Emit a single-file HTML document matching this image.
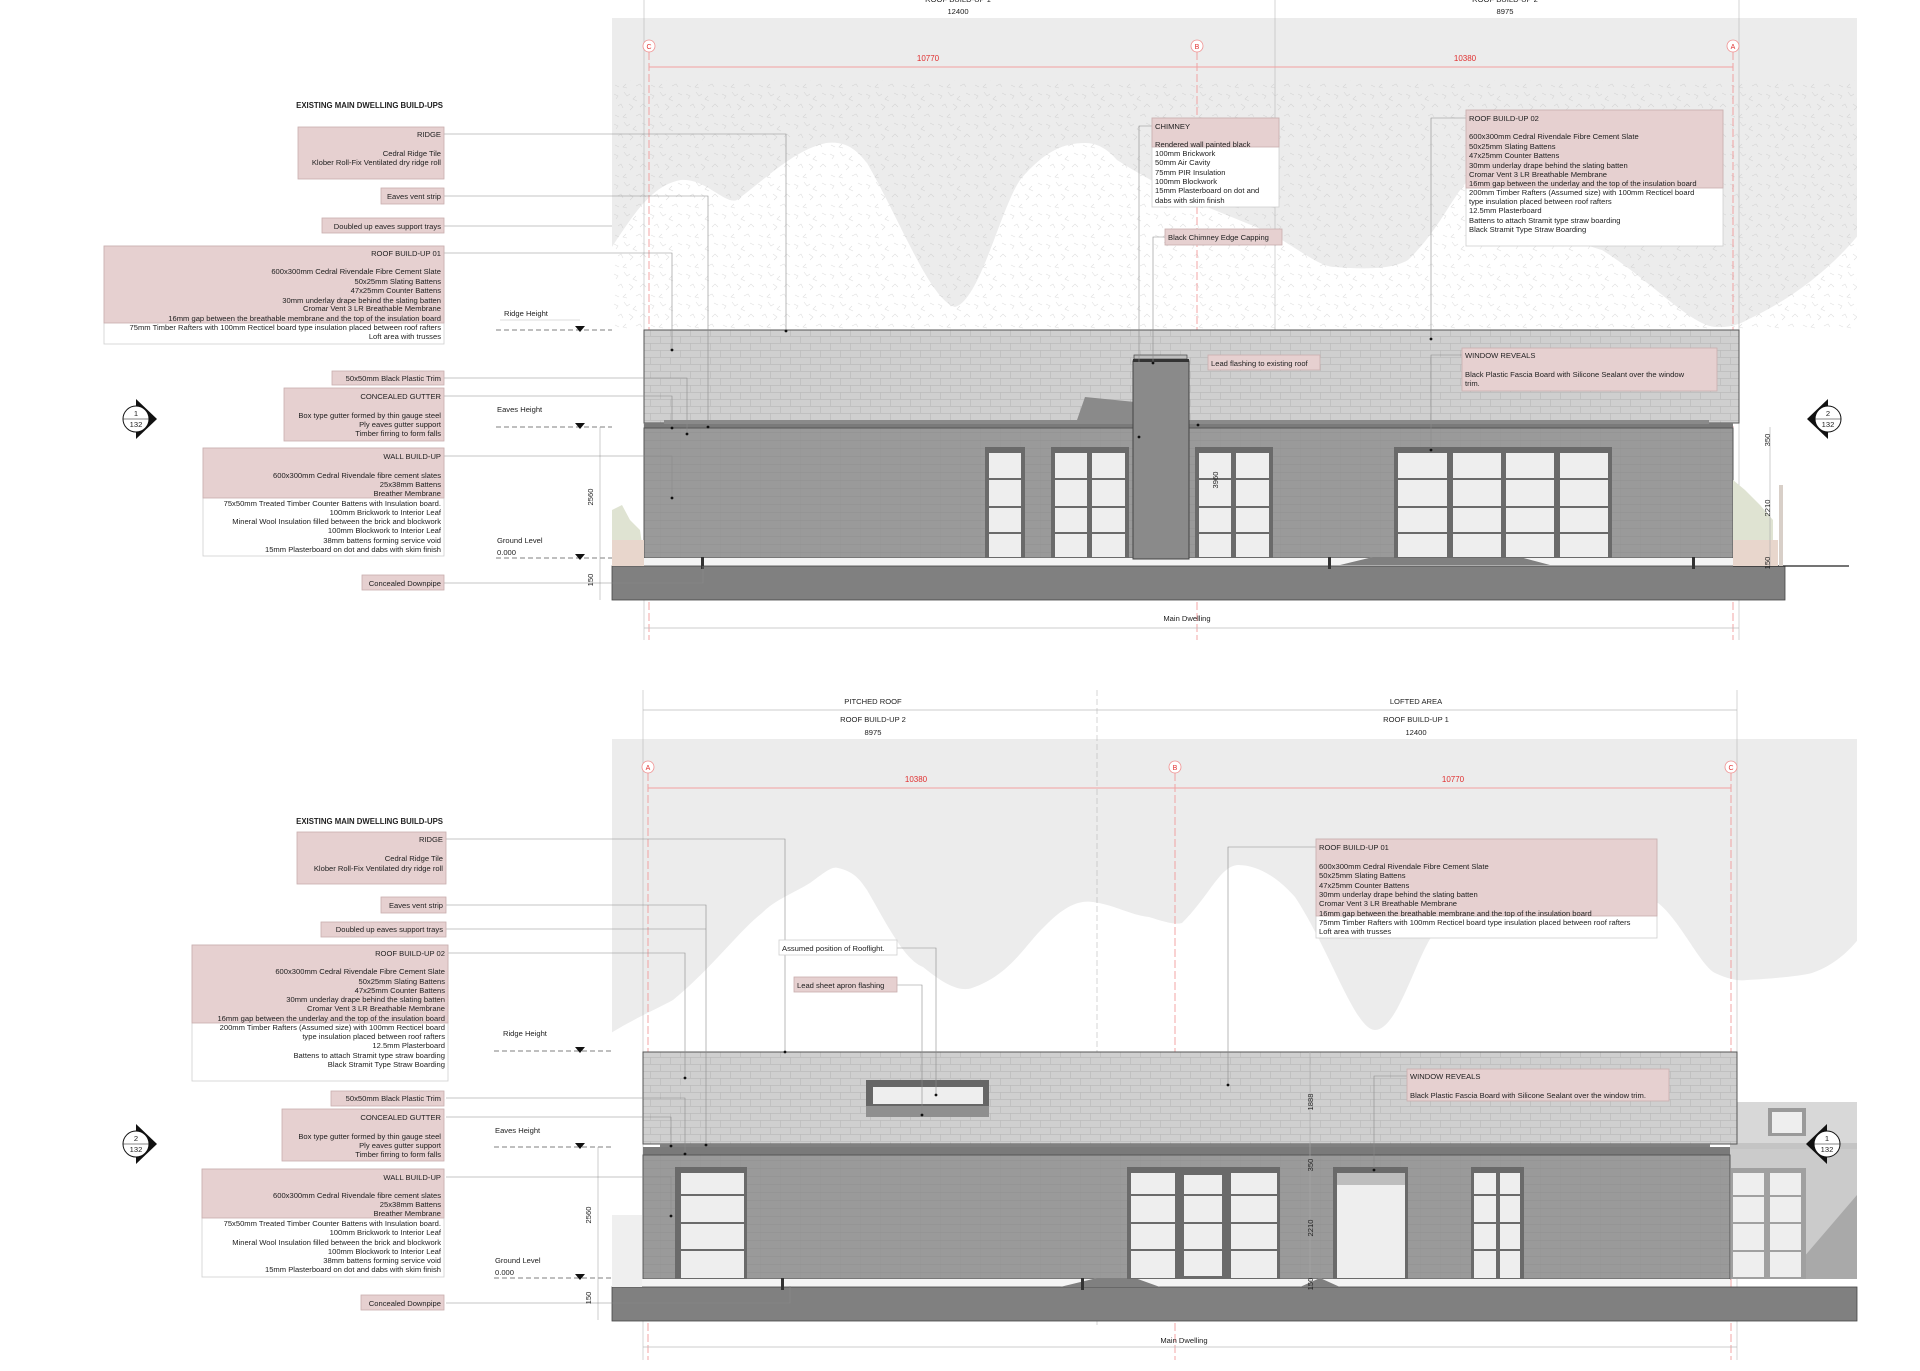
<!DOCTYPE html>
<html><head><meta charset="utf-8"><style>
html,body{margin:0;padding:0;background:#fff;}
svg{display:block;}
text{font-family:"Liberation Sans",Arial,sans-serif;font-size:7.6px;fill:#222;}
.r{text-anchor:end;}
.m{text-anchor:middle;}
.red{fill:#e03030;font-size:8px;}
.ll{stroke:#8a8a8a;stroke-width:0.6;fill:none;}
.pk{fill:#e6d0d0;stroke:#c9aeae;stroke-width:0.8;}
.wb{fill:#fff;stroke:#cfcfcf;stroke-width:0.8;}
.gl{stroke:#b8b8b8;stroke-width:0.6;fill:none;}
.rd{stroke:#f09090;stroke-width:0.8;stroke-dasharray:8 3;fill:none;}
.dot{fill:#111;}
.fr{fill:#6a6a6a;}
.gs{fill:#eeeeee;}
.bar{stroke:#6a6a6a;stroke-width:2;}
.dash{stroke:#555;stroke-width:0.8;stroke-dasharray:5 3;fill:none;}
</style></head><body>
<svg width="1920" height="1371" viewBox="0 0 1920 1371" xmlns="http://www.w3.org/2000/svg">
<defs>
<pattern id="roof" width="20" height="14" patternUnits="userSpaceOnUse">
<rect width="20" height="14" fill="#cfcfcf"/>
<path d="M0 0.5H20M0 7.5H20M0.5 0V7M10.5 7V14" stroke="#bcbcbc" stroke-width="0.7"/>
</pattern>
<pattern id="wall" width="20" height="8" patternUnits="userSpaceOnUse">
<rect width="20" height="8" fill="#9a9a9a"/>
<path d="M0 0.5H20" stroke="#909090" stroke-width="0.6"/>
<path d="M0.5 0V8" stroke="#949494" stroke-width="0.4"/>
</pattern>
<pattern id="hatch" width="36" height="30" patternUnits="userSpaceOnUse">
<path d="M2 4l4 2l-2 3M12 2l3 4l3-2M24 6l-3 3l4 2M30 3l4 2M6 16l3-2l2 4M17 14l4 3l-3 3M28 17l3-3l3 3M3 25l4 2M14 24l-3 3l4 1M24 26l4-2l2 3" stroke="#b5b5b5" stroke-width="0.55" fill="none"/>
</pattern>
</defs>

<!-- ============ TOP ELEVATION ============ -->
<rect x="612" y="18" width="1245" height="312" fill="#ececec"/>
<path d="M608 330 L608 253 C630 220 650 185 681 180 C705 178 725 205 737 200 C770 175 795 150 826 143 C850 140 860 155 867 163 C900 220 930 300 955 307 C980 300 1000 210 1020 180 C1045 150 1065 143 1085 143 C1100 143 1110 152 1117 160 C1180 200 1230 215 1270 233 C1300 250 1320 267 1335 267 C1370 270 1395 268 1408 260 C1440 230 1455 190 1472 177 C1510 180 1540 220 1569 237 C1585 245 1595 248 1602 250 C1650 280 1690 325 1715 327 C1730 328 1740 324 1747 320 C1790 300 1830 270 1860 233 L1860 330 Z" fill="#fff"/>
<rect x="612" y="80" width="1245" height="250" fill="url(#hatch)" opacity="0.45"/>

<!-- top dims -->
<line x1="644" y1="0" x2="644" y2="640" class="gl"/>
<line x1="1275" y1="0" x2="1275" y2="330" class="gl"/>
<line x1="1739" y1="0" x2="1739" y2="640" class="gl"/>
<text x="958" y="2" class="m">ROOF BUILD-UP 1</text>
<text x="1505" y="2" class="m">ROOF BUILD-UP 2</text>
<text x="958" y="14" class="m">12400</text>
<text x="1505" y="14" class="m">8975</text>

<line x1="649" y1="52" x2="649" y2="640" class="rd"/>
<line x1="1197" y1="52" x2="1197" y2="640" class="rd"/>
<line x1="1733" y1="52" x2="1733" y2="640" class="rd"/>
<line x1="649" y1="67" x2="1733" y2="67" stroke="#f2a0a0" stroke-width="1"/>
<circle cx="649" cy="46" r="6" fill="#fff" stroke="#f09090" stroke-width="0.8"/><text x="649" y="49" class="m red" style="font-size:7px">C</text>
<circle cx="1197" cy="46" r="6" fill="#fff" stroke="#f09090" stroke-width="0.8"/><text x="1197" y="49" class="m red" style="font-size:7px">B</text>
<circle cx="1733" cy="46" r="6" fill="#fff" stroke="#f09090" stroke-width="0.8"/><text x="1733" y="49" class="m red" style="font-size:7px">A</text>
<text x="928" y="61" class="m red">10770</text>
<text x="1465" y="61" class="m red">10380</text>

<!-- building top -->
<rect x="644" y="330" width="1095" height="93" fill="url(#roof)" stroke="#555" stroke-width="1"/>
<polygon points="1085,397 1135,402 1135,430 1077,420" fill="#8a8a8a"/>
<rect x="644" y="423" width="1089" height="5" fill="#7a7a7a"/>
<rect x="664" y="420" width="1045" height="4" fill="#8a8a8a"/>
<rect x="644" y="428" width="1089" height="130" fill="url(#wall)" stroke="#555" stroke-width="1"/>
<rect x="612" y="558" width="1121" height="8" fill="#f4f4f4"/>
<rect x="612" y="566" width="1173" height="34" fill="#808080" stroke="#444" stroke-width="0.8"/>
<line x1="1733" y1="566" x2="1849" y2="566" stroke="#222" stroke-width="1.2"/>
<polygon points="1340,565 1373,557 1520,557 1550,565" fill="#808080"/>
<path d="M1733 558 L1773 558 L1773 520 L1760 505 L1745 490 L1733 480 Z" fill="#dfe3d2"/>
<rect x="1733" y="540" width="45" height="26" fill="#e8d6cc"/>
<rect x="1779" y="485" width="4" height="81" fill="#d8cfc8"/>
<path d="M612 558 L612 510 L622 505 L630 520 L640 530 L644 558 Z" fill="#dfe3d2"/>
<rect x="612" y="540" width="32" height="26" fill="#e8d6cc"/>
<rect x="701" y="557" width="3" height="12" fill="#333"/>
<rect x="1328" y="557" width="3" height="12" fill="#333"/>
<rect x="1692" y="557" width="3" height="12" fill="#333"/>
<rect x="1133" y="361" width="56" height="198" fill="#8a8a8a" stroke="#444" stroke-width="1"/>
<rect x="1134" y="355" width="53" height="4" fill="#bdbdbd" stroke="#444" stroke-width="0.7"/>
<rect x="1133" y="359" width="56" height="3" fill="#333"/>
<g>
<rect x="985" y="447" width="40" height="111" class="fr"/><rect x="989" y="453" width="32" height="104" class="gs"/>
<rect x="1051" y="447" width="78" height="111" class="fr"/><rect x="1055" y="453" width="32" height="104" class="gs"/><rect x="1092" y="453" width="33" height="104" class="gs"/>
<rect x="1195" y="447" width="78" height="111" class="fr"/><rect x="1199" y="453" width="32" height="104" class="gs"/><rect x="1236" y="453" width="33" height="104" class="gs"/>
<rect x="1394" y="447" width="218" height="111" class="fr"/>
<rect x="1398" y="453" width="49" height="104" class="gs"/><rect x="1453" y="453" width="48" height="104" class="gs"/><rect x="1506" y="453" width="48" height="104" class="gs"/><rect x="1560" y="453" width="48" height="104" class="gs"/>
<path d="M985 479H1025M985 507H1025M985 533H1025M1051 479H1129M1051 507H1129M1051 533H1129M1195 479H1273M1195 507H1273M1195 533H1273M1394 479H1612M1394 507H1612M1394 533H1612" class="bar"/>
</g>
<text transform="translate(1218,480) rotate(-90)" class="m">3960</text>

<text x="504" y="316">Ridge Height</text>
<line x1="496" y1="330" x2="612" y2="330" class="dash"/>
<line x1="500" y1="320" x2="580" y2="320" stroke="#bbb" stroke-width="0.5"/>
<polygon points="575,326 585,326 580,332" fill="#111"/>
<text x="497" y="412">Eaves Height</text>
<line x1="496" y1="427" x2="612" y2="427" class="dash"/>
<polygon points="575,423 585,423 580,429" fill="#111"/>
<text x="497" y="543">Ground Level</text>
<text x="497" y="555">0.000</text>
<line x1="496" y1="558" x2="612" y2="558" class="dash"/>
<polygon points="575,554 585,554 580,560" fill="#111"/>
<line x1="600" y1="427" x2="600" y2="600" stroke="#aaa" stroke-width="0.6"/>
<text transform="translate(593,497) rotate(-90)" class="m">2560</text>
<text transform="translate(593,580) rotate(-90)" class="m">150</text>
<line x1="1770" y1="427" x2="1770" y2="566" stroke="#aaa" stroke-width="0.6"/>
<text transform="translate(1770,440) rotate(-90)" class="m">350</text>
<text transform="translate(1770,508) rotate(-90)" class="m">2210</text>
<text transform="translate(1770,563) rotate(-90)" class="m">150</text>
<line x1="644" y1="628" x2="1739" y2="628" stroke="#bbb" stroke-width="0.7"/>
<text x="1187" y="621" class="m">Main Dwelling</text>

<polygon points="136,399 157,419 136,439" fill="#111"/><circle cx="136" cy="419" r="13" fill="#fff" stroke="#111" stroke-width="1"/><line x1="123" y1="419" x2="149" y2="419" stroke="#111" stroke-width="0.6"/><text x="136" y="416" class="m">1</text><text x="136" y="427" class="m">132</text>
<polygon points="1828,399 1807,419 1828,439" fill="#111"/><circle cx="1828" cy="419" r="13" fill="#fff" stroke="#111" stroke-width="1"/><line x1="1815" y1="419" x2="1841" y2="419" stroke="#111" stroke-width="0.6"/><text x="1828" y="416" class="m">2</text><text x="1828" y="427" class="m">132</text>

<path d="M444 134H786V330 M444 196H708V427 M444 226H612 M444 253H672V350 M444 378H687V434 M444 396H672V428 M444 456H672V498 M444 583H703V566" class="ll"/>
<g class="dot"><circle cx="786" cy="331" r="1.4"/><circle cx="708" cy="427" r="1.4"/><circle cx="672" cy="350" r="1.4"/><circle cx="687" cy="434" r="1.4"/><circle cx="672" cy="428" r="1.4"/><circle cx="672" cy="498" r="1.4"/></g>
<path d="M1152 126H1139V437 M1165 237H1153V363 M1466 118H1431V339 M1462 355H1431V450" class="ll"/>
<g class="dot"><circle cx="1139" cy="437" r="1.4"/><circle cx="1153" cy="363" r="1.4"/><circle cx="1431" cy="339" r="1.4"/><circle cx="1431" cy="450" r="1.4"/><circle cx="1198" cy="425" r="1.4"/></g>

<text x="443" y="108" class="r" style="font-weight:bold;font-size:7.8px">EXISTING MAIN DWELLING BUILD-UPS</text>
<rect x="298" y="127" width="146" height="52" class="pk"/>
<text x="441" y="137" class="r">RIDGE</text><text x="441" y="156" class="r">Cedral Ridge Tile</text><text x="441" y="165" class="r">Klober Roll-Fix Ventilated dry ridge roll</text>
<rect x="381" y="188" width="63" height="16" class="pk"/><text x="441" y="199" class="r">Eaves vent strip</text>
<rect x="322" y="218" width="122" height="15" class="pk"/><text x="441" y="229" class="r">Doubled up eaves support trays</text>
<rect x="104" y="246" width="340" height="98" class="wb"/><rect x="104" y="246" width="340" height="77" class="pk"/>
<text x="441" y="256" class="r">ROOF BUILD-UP 01</text>
<text x="441" y="274" class="r">600x300mm Cedral Rivendale Fibre Cement Slate</text>
<text x="441" y="284" class="r">50x25mm Slating Battens</text>
<text x="441" y="293" class="r">47x25mm Counter Battens</text>
<text x="441" y="303" class="r">30mm underlay drape behind the slating batten</text>
<text x="441" y="311" class="r">Cromar Vent 3 LR Breathable Membrane</text>
<text x="441" y="321" class="r">16mm gap between the breathable membrane and the top of the insulation board</text>
<text x="441" y="330" class="r">75mm Timber Rafters with 100mm Recticel board type insulation placed between roof rafters</text>
<text x="441" y="339" class="r">Loft area with trusses</text>
<rect x="332" y="371" width="112" height="14" class="pk"/><text x="441" y="381" class="r">50x50mm Black Plastic Trim</text>
<rect x="284" y="388" width="160" height="53" class="pk"/>
<text x="441" y="399" class="r">CONCEALED GUTTER</text><text x="441" y="418" class="r">Box type gutter formed by thin gauge steel</text><text x="441" y="427" class="r">Ply eaves gutter support</text><text x="441" y="436" class="r">Timber firring to form falls</text>
<rect x="203" y="448" width="241" height="108" class="wb"/><rect x="203" y="448" width="241" height="50" class="pk"/>
<text x="441" y="459" class="r">WALL BUILD-UP</text>
<text x="441" y="478" class="r">600x300mm Cedral Rivendale fibre cement slates</text>
<text x="441" y="487" class="r">25x38mm Battens</text>
<text x="441" y="496" class="r">Breather Membrane</text>
<text x="441" y="506" class="r">75x50mm Treated Timber Counter Battens with Insulation board.</text>
<text x="441" y="515" class="r">100mm Brickwork to Interior Leaf</text>
<text x="441" y="524" class="r">Mineral Wool Insulation filled between the brick and blockwork</text>
<text x="441" y="533" class="r">100mm Blockwork to Interior Leaf</text>
<text x="441" y="543" class="r">38mm battens forming service void</text>
<text x="441" y="552" class="r">15mm Plasterboard on dot and dabs with skim finish</text>
<rect x="362" y="575" width="82" height="15" class="pk"/><text x="441" y="586" class="r">Concealed Downpipe</text>

<rect x="1152" y="118" width="127" height="89" class="wb"/><rect x="1152" y="118" width="127" height="29" class="pk"/>
<text x="1155" y="129">CHIMNEY</text><text x="1155" y="147">Rendered wall painted black</text><text x="1155" y="156">100mm Brickwork</text><text x="1155" y="165">50mm Air Cavity</text><text x="1155" y="175">75mm PIR Insulation</text><text x="1155" y="184">100mm Blockwork</text><text x="1155" y="193">15mm Plasterboard on dot and</text><text x="1155" y="203">dabs with skim finish</text>
<rect x="1165" y="229" width="117" height="16" class="pk"/><text x="1168" y="240">Black Chimney Edge Capping</text>
<rect x="1466" y="110" width="257" height="136" class="wb"/><rect x="1466" y="110" width="257" height="78" class="pk"/>
<text x="1469" y="121">ROOF BUILD-UP 02</text>
<text x="1469" y="139">600x300mm Cedral Rivendale Fibre Cement Slate</text>
<text x="1469" y="149">50x25mm Slating Battens</text>
<text x="1469" y="158">47x25mm Counter Battens</text>
<text x="1469" y="168">30mm underlay drape behind the slating batten</text>
<text x="1469" y="177">Cromar Vent 3 LR Breathable Membrane</text>
<text x="1469" y="186">16mm gap between the underlay and the top of the insulation board</text>
<text x="1469" y="195">200mm Timber Rafters (Assumed size) with 100mm Recticel board</text>
<text x="1469" y="204">type insulation placed between roof rafters</text>
<text x="1469" y="213">12.5mm Plasterboard</text>
<text x="1469" y="223">Battens to attach Stramit type straw boarding</text>
<text x="1469" y="232">Black Stramit Type Straw Boarding</text>
<rect x="1208" y="355" width="112" height="15" class="pk"/><text x="1211" y="366">Lead flashing to existing roof</text>
<rect x="1462" y="348" width="255" height="43" class="pk"/>
<text x="1465" y="358">WINDOW REVEALS</text><text x="1465" y="377">Black Plastic Fascia Board with Silicone Sealant over the window</text><text x="1465" y="386">trim.</text>

<!-- ============ BOTTOM ELEVATION ============ -->
<rect x="612" y="739" width="1245" height="313" fill="#ececec"/>
<path d="M600 1052 L600 1040 C630 1020 655 1010 673 1000 C710 970 740 930 762 913 C775 900 790 895 810 883 C825 872 832 866 838 868 C855 872 860 880 867 890 C890 930 905 960 923 967 C945 985 960 992 972 988 C1010 975 1025 945 1044 927 C1065 905 1080 900 1093 902 C1115 905 1130 915 1149 917 C1165 922 1175 925 1182 923 C1210 895 1220 866 1238 865 C1260 865 1280 880 1295 897 C1330 950 1355 1030 1375 1030 C1400 1030 1420 940 1440 927 C1500 900 1600 895 1658 903 C1680 920 1700 965 1715 973 C1730 980 1740 981 1747 980 C1780 978 1800 976 1812 973 C1835 965 1850 950 1860 937 L1860 1052 Z" fill="#fff"/>

<line x1="643" y1="690" x2="643" y2="1360" class="gl"/>
<line x1="1097" y1="690" x2="1097" y2="1325" class="gl" stroke-dasharray="6 3"/>
<line x1="1737" y1="690" x2="1737" y2="1360" class="gl"/>
<line x1="643" y1="710" x2="1737" y2="710" stroke="#bbb" stroke-width="0.7"/>
<text x="873" y="704" class="m">PITCHED ROOF</text>
<text x="873" y="722" class="m">ROOF BUILD-UP 2</text>
<text x="873" y="735" class="m">8975</text>
<text x="1416" y="704" class="m">LOFTED AREA</text>
<text x="1416" y="722" class="m">ROOF BUILD-UP 1</text>
<text x="1416" y="735" class="m">12400</text>

<line x1="648" y1="773" x2="648" y2="1360" class="rd"/>
<line x1="1175" y1="773" x2="1175" y2="1360" class="rd"/>
<line x1="1731" y1="773" x2="1731" y2="1360" class="rd"/>
<line x1="648" y1="788" x2="1731" y2="788" stroke="#f2a0a0" stroke-width="1"/>
<circle cx="648" cy="767" r="6" fill="#fff" stroke="#f09090" stroke-width="0.8"/><text x="648" y="770" class="m red" style="font-size:7px">A</text>
<circle cx="1175" cy="767" r="6" fill="#fff" stroke="#f09090" stroke-width="0.8"/><text x="1175" y="770" class="m red" style="font-size:7px">B</text>
<circle cx="1731" cy="767" r="6" fill="#fff" stroke="#f09090" stroke-width="0.8"/><text x="1731" y="770" class="m red" style="font-size:7px">C</text>
<text x="916" y="782" class="m red">10380</text>
<text x="1453" y="782" class="m red">10770</text>

<rect x="1730" y="1102" width="127" height="41" fill="#d8d8d8"/>
<rect x="1730" y="1143" width="127" height="6" fill="#c4c4c4"/>
<rect x="1730" y="1149" width="127" height="130" fill="#cbcbcb"/>
<polygon points="1857,1195 1857,1279 1785,1279" fill="#a9a9a9"/>
<rect x="1768" y="1108" width="38" height="28" fill="#9a9a9a"/><rect x="1772" y="1112" width="30" height="21" class="gs"/>
<rect x="1731" y="1168" width="75" height="111" fill="#a0a0a0"/>
<rect x="1733" y="1173" width="31" height="104" class="gs"/><rect x="1770" y="1173" width="31" height="104" class="gs"/>
<path d="M1731 1196H1806M1731 1223H1806M1731 1251H1806" stroke="#a0a0a0" stroke-width="2"/>

<rect x="643" y="1052" width="1094" height="92" fill="url(#roof)" stroke="#555" stroke-width="1"/>
<rect x="866" y="1080" width="123" height="37" fill="#8f8f8f"/>
<rect x="866" y="1080" width="123" height="26" fill="#666"/>
<rect x="873" y="1087" width="110" height="17" class="gs"/>
<rect x="660" y="1144" width="1050" height="4" fill="#808080"/>
<rect x="643" y="1147" width="1087" height="8" fill="#7a7a7a"/>
<rect x="643" y="1155" width="1087" height="124" fill="url(#wall)" stroke="#555" stroke-width="1"/>
<rect x="612" y="1279" width="1118" height="8" fill="#f4f4f4"/>
<rect x="612" y="1287" width="1245" height="34" fill="#808080" stroke="#444" stroke-width="0.8"/>
<polygon points="1060,1287 1097,1278 1135,1278 1160,1287" fill="#808080"/>
<polygon points="1300,1287 1320,1278 1340,1287" fill="#808080"/>
<rect x="612" y="1215" width="30" height="72" fill="#efefef"/>
<rect x="781" y="1278" width="3" height="12" fill="#333"/>
<rect x="1081" y="1278" width="3" height="12" fill="#333"/>
<rect x="675" y="1167" width="72" height="112" class="fr"/><rect x="681" y="1173" width="63" height="105" class="gs"/>
<rect x="1127" y="1167" width="153" height="112" class="fr"/>
<rect x="1131" y="1173" width="44" height="105" class="gs"/><rect x="1184" y="1175" width="38" height="101" class="gs"/><rect x="1231" y="1173" width="46" height="105" class="gs"/>
<rect x="1333" y="1167" width="75" height="112" class="fr"/><rect x="1337" y="1173" width="68" height="105" class="gs"/><rect x="1337" y="1173" width="68" height="12" fill="#bdbdbd"/>
<rect x="1471" y="1167" width="53" height="112" class="fr"/><rect x="1474" y="1173" width="22" height="105" class="gs"/><rect x="1500" y="1173" width="20" height="105" class="gs"/>
<path d="M675 1195H747M675 1223H747M675 1250H747M1127 1195H1280M1127 1223H1280M1127 1250H1280M1471 1195H1524M1471 1223H1524M1471 1250H1524" class="bar"/>

<text x="503" y="1036">Ridge Height</text>
<line x1="494" y1="1051" x2="612" y2="1051" class="dash"/>
<polygon points="575,1047 585,1047 580,1053" fill="#111"/>
<text x="495" y="1133">Eaves Height</text>
<line x1="494" y1="1147" x2="612" y2="1147" class="dash"/>
<polygon points="575,1143 585,1143 580,1149" fill="#111"/>
<text x="495" y="1263">Ground Level</text>
<text x="495" y="1275">0.000</text>
<line x1="494" y1="1278" x2="612" y2="1278" class="dash"/>
<polygon points="575,1274 585,1274 580,1280" fill="#111"/>
<line x1="598" y1="1147" x2="598" y2="1320" stroke="#aaa" stroke-width="0.6"/>
<text transform="translate(591,1215) rotate(-90)" class="m">2560</text>
<text transform="translate(591,1298) rotate(-90)" class="m">150</text>
<line x1="1310" y1="1052" x2="1310" y2="1287" stroke="#aaa" stroke-width="0.6"/>
<text transform="translate(1313,1102) rotate(-90)" class="m">1888</text>
<text transform="translate(1313,1165) rotate(-90)" class="m">350</text>
<text transform="translate(1313,1228) rotate(-90)" class="m">2210</text>
<text transform="translate(1313,1284) rotate(-90)" class="m">150</text>
<line x1="643" y1="1347" x2="1737" y2="1347" stroke="#bbb" stroke-width="0.7"/>
<text x="1184" y="1343" class="m">Main Dwelling</text>

<polygon points="136,1124 157,1144 136,1164" fill="#111"/><circle cx="136" cy="1144" r="13" fill="#fff" stroke="#111" stroke-width="1"/><line x1="123" y1="1144" x2="149" y2="1144" stroke="#111" stroke-width="0.6"/><text x="136" y="1141" class="m">2</text><text x="136" y="1152" class="m">132</text>
<polygon points="1827,1124 1806,1144 1827,1164" fill="#111"/><circle cx="1827" cy="1144" r="13" fill="#fff" stroke="#111" stroke-width="1"/><line x1="1814" y1="1144" x2="1840" y2="1144" stroke="#111" stroke-width="0.6"/><text x="1827" y="1141" class="m">1</text><text x="1827" y="1152" class="m">132</text>

<path d="M446 839H785V1052 M446 905H706V1145 M446 929H706 M446 953H685V1078 M446 1098H685V1154 M446 1117H671V1146 M446 1177H671V1216 M446 1303H790V1286" class="ll"/>
<path d="M897 948H936V1095 M897 985H922V1115 M1316 847H1228V1085 M1407 1076H1374V1170" class="ll"/>
<g class="dot"><circle cx="785" cy="1052" r="1.4"/><circle cx="706" cy="1145" r="1.4"/><circle cx="685" cy="1078" r="1.4"/><circle cx="685" cy="1154" r="1.4"/><circle cx="671" cy="1146" r="1.4"/><circle cx="671" cy="1216" r="1.4"/><circle cx="936" cy="1095" r="1.4"/><circle cx="922" cy="1115" r="1.4"/><circle cx="1228" cy="1085" r="1.4"/><circle cx="1374" cy="1170" r="1.4"/></g>

<text x="443" y="824" class="r" style="font-weight:bold;font-size:7.8px">EXISTING MAIN DWELLING BUILD-UPS</text>
<rect x="297" y="832" width="149" height="52" class="pk"/>
<text x="443" y="842" class="r">RIDGE</text><text x="443" y="861" class="r">Cedral Ridge Tile</text><text x="443" y="871" class="r">Klober Roll-Fix Ventilated dry ridge roll</text>
<rect x="381" y="897" width="65" height="16" class="pk"/><text x="443" y="908" class="r">Eaves vent strip</text>
<rect x="321" y="922" width="125" height="15" class="pk"/><text x="443" y="932" class="r">Doubled up eaves support trays</text>
<rect x="192" y="945" width="256" height="136" class="wb"/><rect x="192" y="945" width="256" height="78" class="pk"/>
<text x="445" y="956" class="r">ROOF BUILD-UP 02</text>
<text x="445" y="974" class="r">600x300mm Cedral Rivendale Fibre Cement Slate</text>
<text x="445" y="984" class="r">50x25mm Slating Battens</text>
<text x="445" y="993" class="r">47x25mm Counter Battens</text>
<text x="445" y="1002" class="r">30mm underlay drape behind the slating batten</text>
<text x="445" y="1011" class="r">Cromar Vent 3 LR Breathable Membrane</text>
<text x="445" y="1021" class="r">16mm gap between the underlay and the top of the insulation board</text>
<text x="445" y="1030" class="r">200mm Timber Rafters (Assumed size) with 100mm Recticel board</text>
<text x="445" y="1039" class="r">type insulation placed between roof rafters</text>
<text x="445" y="1048" class="r">12.5mm Plasterboard</text>
<text x="445" y="1058" class="r">Battens to attach Stramit type straw boarding</text>
<text x="445" y="1067" class="r">Black Stramit Type Straw Boarding</text>
<rect x="331" y="1091" width="113" height="15" class="pk"/><text x="441" y="1101" class="r">50x50mm Black Plastic Trim</text>
<rect x="282" y="1109" width="162" height="52" class="pk"/>
<text x="441" y="1120" class="r">CONCEALED GUTTER</text><text x="441" y="1139" class="r">Box type gutter formed by thin gauge steel</text><text x="441" y="1148" class="r">Ply eaves gutter support</text><text x="441" y="1157" class="r">Timber firring to form falls</text>
<rect x="202" y="1169" width="242" height="108" class="wb"/><rect x="202" y="1169" width="242" height="49" class="pk"/>
<text x="441" y="1180" class="r">WALL BUILD-UP</text>
<text x="441" y="1198" class="r">600x300mm Cedral Rivendale fibre cement slates</text>
<text x="441" y="1207" class="r">25x38mm Battens</text>
<text x="441" y="1216" class="r">Breather Membrane</text>
<text x="441" y="1226" class="r">75x50mm Treated Timber Counter Battens with Insulation board.</text>
<text x="441" y="1235" class="r">100mm Brickwork to Interior Leaf</text>
<text x="441" y="1245" class="r">Mineral Wool Insulation filled between the brick and blockwork</text>
<text x="441" y="1254" class="r">100mm Blockwork to Interior Leaf</text>
<text x="441" y="1263" class="r">38mm battens forming service void</text>
<text x="441" y="1272" class="r">15mm Plasterboard on dot and dabs with skim finish</text>
<rect x="361" y="1295" width="83" height="15" class="pk"/><text x="441" y="1306" class="r">Concealed Downpipe</text>

<rect x="779" y="940" width="118" height="15" class="wb"/><text x="782" y="951">Assumed position of Rooflight.</text>
<rect x="794" y="977" width="103" height="15" class="pk"/><text x="797" y="988">Lead sheet apron flashing</text>
<rect x="1316" y="839" width="341" height="99" class="wb"/><rect x="1316" y="839" width="341" height="77" class="pk"/>
<text x="1319" y="850">ROOF BUILD-UP 01</text>
<text x="1319" y="869">600x300mm Cedral Rivendale Fibre Cement Slate</text>
<text x="1319" y="878">50x25mm Slating Battens</text>
<text x="1319" y="888">47x25mm Counter Battens</text>
<text x="1319" y="897">30mm underlay drape behind the slating batten</text>
<text x="1319" y="906">Cromar Vent 3 LR Breathable Membrane</text>
<text x="1319" y="916">16mm gap between the breathable membrane and the top of the insulation board</text>
<text x="1319" y="925">75mm Timber Rafters with 100mm Recticel board type insulation placed between roof rafters</text>
<text x="1319" y="934">Loft area with trusses</text>
<rect x="1407" y="1069" width="262" height="32" class="pk"/>
<text x="1410" y="1079">WINDOW REVEALS</text><text x="1410" y="1098">Black Plastic Fascia Board with Silicone Sealant over the window trim.</text>
</svg>
</body></html>
